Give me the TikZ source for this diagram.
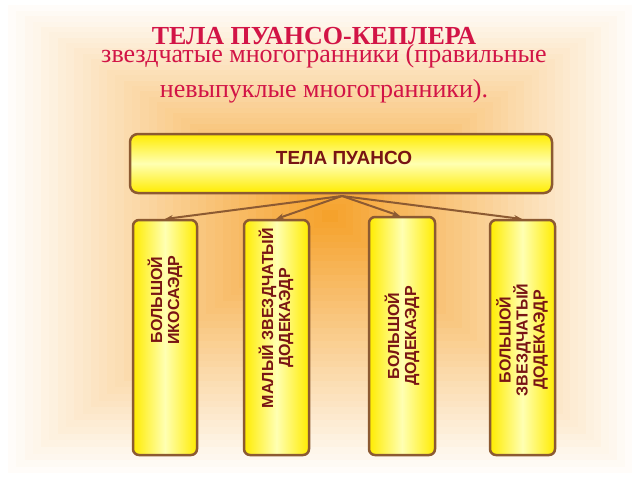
\documentclass[tikz,border=0pt]{standalone}
\usepackage{fontspec}
\setmainfont{Liberation Serif}
\newfontfamily\boxfont{Liberation Sans}
\usetikzlibrary{arrows.meta}
\definecolor{titlered}{RGB}{210,20,70}
\definecolor{boxedge}{RGB}{140,90,50}
\definecolor{boxtext}{RGB}{120,20,20}
\definecolor{bgorange}{RGB}{245,160,40}
\tikzset{
  vbox/.style={draw=boxedge, line width=2.5pt, rounded corners=6pt,
    left color=yellow!85!orange, right color=yellow!85!orange, middle color=yellow!30},
  vlabel/.style={font=\boxfont\bfseries\fontsize{16}{17}\selectfont, text=boxtext,
    rotate=90, align=center},
  link/.style={draw=boxedge, line width=2pt, -{Stealth[length=8pt]}}
}
\begin{document}
\begin{tikzpicture}[x=1pt,y=-1pt]
\useasboundingbox (0,0) rectangle (640,480);
% background
\fill[white] (0,0) rectangle (640,480);
\foreach \i in {0,...,40}{
  \pgfmathsetmacro{\s}{1-\i/40}
  \fill[bgorange!\the\numexpr \i*100/40\relax!white]
    (330-330*\s,215-215*\s) rectangle (330+310*\s,215+265*\s);
}
% title
\node (title) at (314,36) {\fontsize{26}{28}\selectfont\bfseries\color{titlered}ТЕЛА ПУАНСО-КЕПЛЕРА};
\node[align=center, text=titlered, font=\fontsize{26}{35}\selectfont] (sub) at (324,74)
  {звездчатые многогранники (правильные\\невыпуклые многогранники).};
% top box
\draw[draw=boxedge, line width=2.5pt, rounded corners=8pt,
  top color=yellow!85!orange, bottom color=yellow!85!orange, middle color=yellow!30]
  (130,134) rectangle (552,193);
\node[font=\boxfont\bfseries\fontsize{19}{21}\selectfont, text=boxtext] (top) at (344,158) {ТЕЛА ПУАНСО};
\coordinate (hub) at (342,196);
% vertical boxes
\draw[vbox] (133,220) rectangle (197,455);
\draw[vbox] (244,220) rectangle (309,455);
\draw[vbox] (369,217) rectangle (435,455);
\draw[vbox] (490,220) rectangle (555,455);
\node[vlabel] (b1) at (165,300) {БОЛЬШОЙ\\ИКОСАЭДР};
\node[vlabel] (b2) at (276,318) {МАЛЫЙ ЗВЕЗДЧАТЫЙ\\ДОДЕКАЭДР};
\node[vlabel] (b3) at (402,336) {БОЛЬШОЙ\\ДОДЕКАЭДР};
\node[vlabel] (b4) at (522,340) {БОЛЬШОЙ\\ЗВЕЗДЧАТЫЙ\\ДОДЕКАЭДР};
\coordinate (t1) at (165,219);
\coordinate (t2) at (276,219);
\coordinate (t3) at (400,216);
\coordinate (t4) at (522,219);
\foreach \t in {t1,t2,t3,t4}
  \draw[link] (hub) -- (\t);
\end{tikzpicture}
\end{document}
